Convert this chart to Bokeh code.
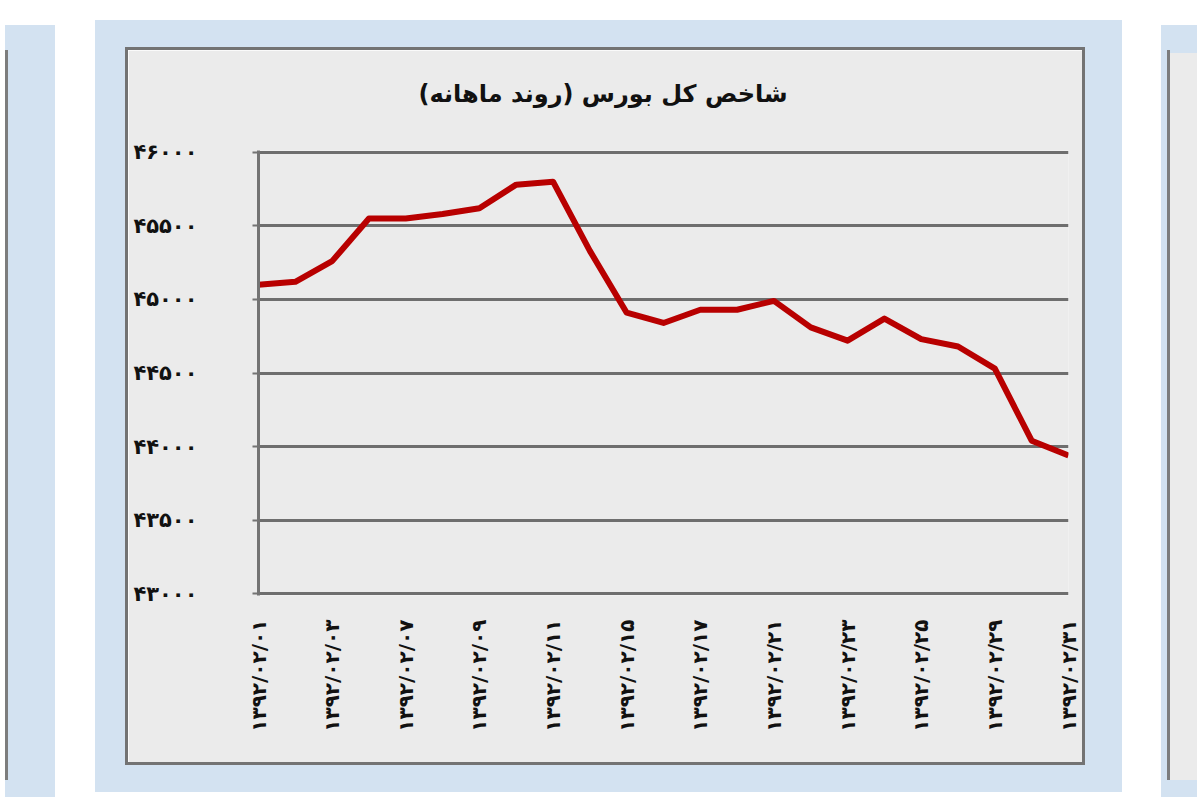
import math
from bokeh.plotting import figure
from bokeh.models import FixedTicker, Range1d, Spacer, Div, Title
from bokeh.layouts import row, column
from bokeh.embed import file_html
from bokeh.resources import INLINE

# ---------------- data ----------------
title_text = "شاخص کل بورس (روند ماهانه)"

index_values = [45100, 45120, 45260, 45550, 45550, 45580, 45620, 45780, 45800,
                45330, 44910, 44840, 44930, 44930, 44990, 44810, 44720, 44870,
                44730, 44680, 44530, 44040, 43940]

x_tick_labels = ["۱۳۹۲/۰۲/۰۱", "۱۳۹۲/۰۲/۰۳", "۱۳۹۲/۰۲/۰۷", "۱۳۹۲/۰۲/۰۹",
                 "۱۳۹۲/۰۲/۱۱", "۱۳۹۲/۰۲/۱۵", "۱۳۹۲/۰۲/۱۷", "۱۳۹۲/۰۲/۲۱",
                 "۱۳۹۲/۰۲/۲۳", "۱۳۹۲/۰۲/۲۵", "۱۳۹۲/۰۲/۲۹", "۱۳۹۲/۰۲/۳۱"]

y_tick_values = [43000, 43500, 44000, 44500, 45000, 45500, 46000]
y_tick_labels = ["۴۳۰۰۰", "۴۳۵۰۰", "۴۴۰۰۰", "۴۴۵۰۰", "۴۵۰۰۰", "۴۵۵۰۰", "۴۶۰۰۰"]

# ---------------- styles ----------------
BLUE = "#d3e2f1"
CHART_BG = "#ebebeb"
FRAME_GRAY = "#737373"
GRID_GRAY = "#6e6e6e"
LINE_RED = "#b80000"
FONT = "DejaVu Sans"

x = list(range(len(index_values)))
x_ticks = x[::2]

p = figure(width=954, height=712, output_backend="svg", toolbar_location=None,
           x_range=Range1d(0, len(index_values) - 1),
           y_range=Range1d(y_tick_values[0] - 12, y_tick_values[-1] + 12),
           min_border_left=130, min_border_right=14,
           min_border_top=100, min_border_bottom=167)

p.background_fill_color = CHART_BG
p.border_fill_color = CHART_BG
p.outline_line_color = None

p.title.text = title_text
p.title.align = "left"
p.title.offset = 160
p.title.standoff = 26
p.title.text_font = FONT
p.title.text_font_size = "24px"
p.title.text_font_style = "bold"
p.title.text_color = "#111111"

# invisible spacer between the title and the plot area
p.add_layout(Title(text=" ", text_font_size="1px", standoff=27), "above")

# y axis
p.yaxis.ticker = FixedTicker(ticks=y_tick_values)
p.yaxis.major_label_overrides = dict(zip(y_tick_values, y_tick_labels))
p.yaxis.axis_line_color = FRAME_GRAY
p.yaxis.axis_line_width = 3
p.yaxis.major_tick_out = 6
p.yaxis.major_tick_in = 0
p.yaxis.major_tick_line_color = FRAME_GRAY
p.yaxis.major_tick_line_width = 2
p.yaxis.minor_tick_line_color = None
p.yaxis.major_label_standoff = 55
p.yaxis.major_label_text_font = FONT
p.yaxis.major_label_text_font_size = "21px"
p.yaxis.major_label_text_font_style = "bold"
p.yaxis.major_label_text_color = "#111111"

# x axis
p.xaxis.ticker = FixedTicker(ticks=x_ticks)
p.xaxis.major_label_overrides = {t: lab for t, lab in zip(x_ticks, x_tick_labels)}
p.xaxis.major_label_orientation = math.pi / 2
p.xaxis.axis_line_color = None
p.xaxis.major_tick_line_color = None
p.xaxis.minor_tick_line_color = None
p.xaxis.major_label_standoff = 18
p.xaxis.major_label_text_font = FONT
p.xaxis.major_label_text_font_size = "20px"
p.xaxis.major_label_text_font_style = "bold"
p.xaxis.major_label_text_color = "#111111"

# grid
p.xgrid.grid_line_color = None
p.ygrid.ticker = FixedTicker(ticks=y_tick_values)
p.ygrid.grid_line_color = GRID_GRAY
p.ygrid.grid_line_width = 3

p.line(x, index_values, line_color=LINE_RED, line_width=6, line_join="round")

# ---------------- frame decoration ----------------
def bar(w, h, color):
    return Spacer(width=w, height=h, styles={"background-color": color})

chart_box = column(
    bar(960, 3, FRAME_GRAY),
    row(bar(3, 712, FRAME_GRAY), p, bar(3, 712, FRAME_GRAY)),
    bar(960, 3, FRAME_GRAY),
)

main_panel = column(
    bar(1027, 27, BLUE),
    row(bar(30, 718, BLUE), chart_box, bar(37, 718, BLUE)),
    bar(1027, 27, BLUE),
)

left_panel = Div(width=50, height=772, styles={"background-color": BLUE},
                 text=("<div style='position:relative;width:50px;height:772px'>"
                       "<div style='position:absolute;left:0;top:25px;width:3px;height:730px;"
                       "background:#7d7d7d'></div></div>"))
right_panel = Div(width=36, height=772, styles={"background-color": BLUE},
                  text=("<div style='position:relative;width:36px;height:772px'>"
                        "<div style='position:absolute;left:6px;top:25px;width:3px;height:730px;"
                        "background:#7d7d7d'></div>"
                        "<div style='position:absolute;left:9px;top:28px;width:27px;height:727px;"
                        "background:#ebebeb'></div></div>"))

layout = column(
    Spacer(width=1184, height=20),
    row(left_panel, Spacer(width=35, height=772), main_panel,
        Spacer(width=34, height=772), right_panel),
)

open("out.html", "w").write(file_html(layout, INLINE))
